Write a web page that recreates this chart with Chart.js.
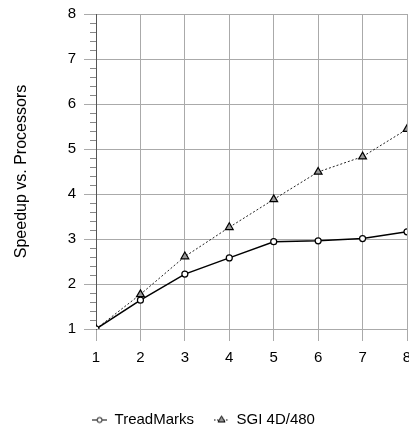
<!DOCTYPE html>
<html>
<head>
<meta charset="utf-8">
<script src="https://cdn.jsdelivr.net/npm/chart.js@4/dist/chart.umd.min.js"></script>
<style>
  html, body { margin: 0; padding: 0; background: #fff; }
  #wrap { width: 409px; height: 428px; }
</style>
</head>
<body>
<div id="wrap"><canvas id="c" width="409" height="428"></canvas></div>
<script>
const processors = [1, 2, 3, 4, 5, 6, 7, 8];
const treadMarks = [1.0, 1.64, 2.22, 2.58, 2.94, 2.96, 3.01, 3.16];
const sgi = [1.0, 1.77, 2.61, 3.26, 3.88, 4.49, 4.83, 5.44];
const seriesNames = ['TreadMarks', 'SGI 4D/480'];
const yTitle = 'Speedup vs. Processors';

const FONT = 'Liberation Sans, Arial, sans-serif';

// legend swatch: short line with the marker on it
function swatch(kind) {
    const cv = document.createElement('canvas');
    cv.width = 15; cv.height = 10;
    const g = cv.getContext('2d');
    g.strokeStyle = '#000';
    g.lineWidth = 1;
    if (kind === 'tri') g.setLineDash([1.5, 1.5]);
    g.beginPath(); g.moveTo(0, 5.5); g.lineTo(15, 5.5); g.stroke();
    g.setLineDash([]);
    if (kind === 'circle') {
        g.fillStyle = '#fff';
        g.beginPath(); g.arc(7.5, 5.5, 2.5, 0, Math.PI * 2); g.fill(); g.stroke();
    } else {
        g.fillStyle = '#999';
        g.beginPath(); g.moveTo(7.5, 1.5); g.lineTo(11, 7.5); g.lineTo(4, 7.5); g.closePath(); g.fill(); g.stroke();
    }
    return cv;
}

// small minor ticks on the y axis
const minorTicks = {
    id: 'minorTicks',
    afterDraw(chart) {
        const y = chart.scales.y;
        const left = chart.chartArea.left;
        const ctx = chart.ctx;
        ctx.save();
        ctx.strokeStyle = '#888';
        ctx.lineWidth = 1;
        for (let v = 1; v < 8; v++) {
            for (let k = 1; k < 5; k++) {
                const py = Math.round(y.getPixelForValue(v + k * 0.2)) + 0.5;
                ctx.beginPath(); ctx.moveTo(left - 6, py); ctx.lineTo(left, py); ctx.stroke();
            }
        }
        ctx.restore();
    }
};

new Chart(document.getElementById('c'), {
    type: 'line',
    data: {
        datasets: [
            {
                label: seriesNames[0],
                data: processors.map((p, i) => ({ x: p, y: treadMarks[i] })),
                borderColor: '#000',
                borderWidth: 1.5,
                pointStyle: 'circle',
                pointRadius: 3,
                pointBackgroundColor: '#fff',
                pointBorderColor: '#000',
                pointBorderWidth: 1.2,
                tension: 0
            },
            {
                label: seriesNames[1],
                data: processors.map((p, i) => ({ x: p, y: sgi[i] })),
                borderColor: '#222',
                borderWidth: 1,
                borderDash: [2, 2],
                pointStyle: 'triangle',
                pointRadius: 4.5,
                pointBackgroundColor: '#999',
                pointBorderColor: '#000',
                pointBorderWidth: 1.2,
                tension: 0
            }
        ]
    },
    options: {
        responsive: false,
        animation: false,
        layout: { autoPadding: false, padding: { top: 14, right: 2, bottom: -9, left: 0 } },
        scales: {
            x: {
                type: 'linear',
                min: 1, max: 8,
                ticks: { stepSize: 1, color: '#000', font: { family: FONT, size: 15 }, padding: 8 },
                grid: { color: '#aaa', tickLength: 12, tickColor: '#aaa' },
                border: { color: '#aaa' },
                afterFit: s => { s.height = 63; s.paddingRight = 0; s.paddingLeft = 0; }
            },
            y: {
                min: 1, max: 8,
                ticks: { stepSize: 1, color: '#000', font: { family: FONT, size: 15 }, padding: 8 },
                grid: { color: '#aaa', tickLength: 12, tickColor: '#aaa' },
                border: { color: '#555' },
                title: { display: true, text: yTitle, color: '#000', font: { family: FONT, size: 16 }, padding: { top: 12, bottom: 0 } },
                afterFit: s => { s.width = 96; s.paddingTop = 0; s.paddingBottom = 0; }
            }
        },
        plugins: {
            legend: {
                position: 'bottom',
                labels: {
                    usePointStyle: true,
                    pointStyleWidth: 15,
                    color: '#000',
                    font: { family: FONT, size: 15 },
                    padding: 20,
                    generateLabels: chart => chart.data.datasets.map((d, i) => ({
                        text: d.label,
                        pointStyle: swatch(i === 0 ? 'circle' : 'tri'),
                        datasetIndex: i,
                        fontColor: '#000',
                        strokeStyle: 'transparent',
                        fillStyle: 'transparent',
                        lineWidth: 0
                    }))
                }
            },
            tooltip: { enabled: false }
        }
    },
    plugins: [minorTicks]
});
</script>
</body>
</html>
